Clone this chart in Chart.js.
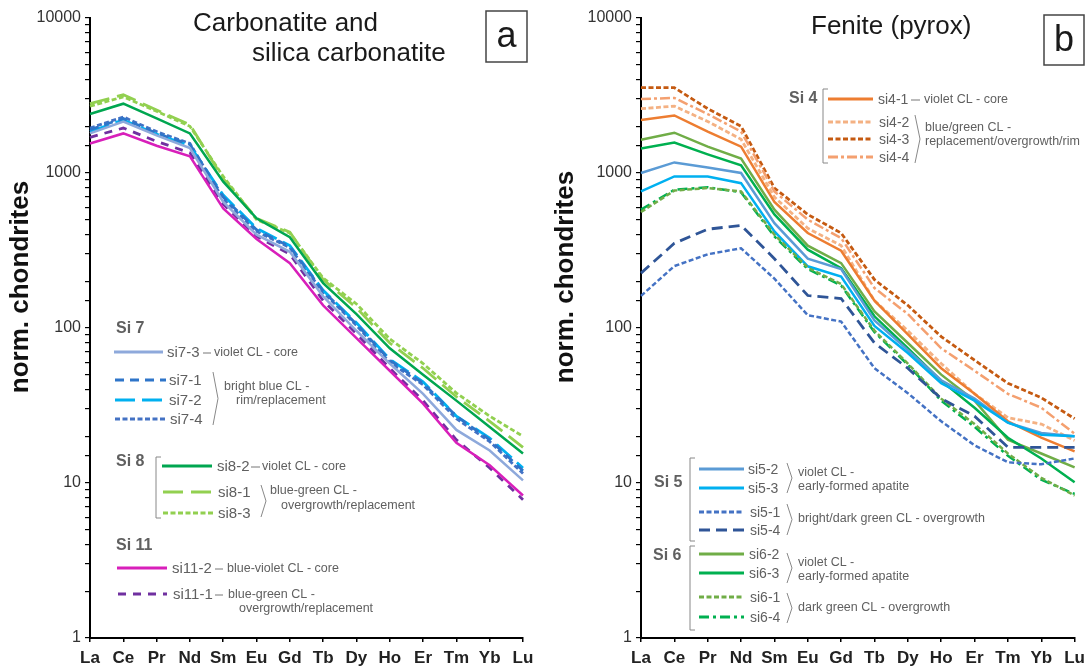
<!DOCTYPE html>
<html>
<head>
<meta charset="utf-8">
<script src="https://cdn.jsdelivr.net/npm/chart.js@4.4.0/dist/chart.umd.min.js"></script>
<style>
  body { margin: 0; background: #fff; }
  #wrap { position: relative; width: 1091px; height: 667px; }
  #wrap canvas { position: absolute; top: 0; }
  #chartA { left: 0; }
  #chartB { left: 545px; }
</style>
</head>
<body>
<div id="wrap">
  <canvas id="chartA" width="545" height="667"></canvas>
  <canvas id="chartB" width="546" height="667"></canvas>
</div>
<script>
// Eléments (REE) et graduations
const elements = ['La', 'Ce', 'Pr', 'Nd', 'Sm', 'Eu', 'Gd', 'Tb', 'Dy', 'Ho', 'Er', 'Tm', 'Yb', 'Lu'];
const yTickLabels = [1, 10, 100, 1000, 10000];

// Panneau a - carbonatite
const si7_3 = [1800, 2150, 1750, 1450, 650, 400, 310, 160, 96, 59, 37.6, 22, 16.2, 10.4];
const si7_1 = [1900, 2250, 1800, 1530, 700, 430, 335, 173, 106, 62, 44, 27, 19, 12];
const si7_2 = [1850, 2200, 1780, 1500, 720, 440, 340, 175, 108, 63, 45, 27, 19.5, 12.5];
const si7_4 = [1950, 2300, 1850, 1550, 680, 420, 330, 170, 104, 60, 43, 26, 18.5, 11.5];
const si8_2 = [2400, 2800, 2250, 1800, 880, 510, 385, 195, 123, 74, 50, 34, 23, 15.5];
const si8_1 = [2800, 3200, 2550, 2050, 920, 510, 415, 205, 135, 80, 55, 36, 25, 17];
const si8_3 = [2700, 3100, 2500, 2000, 950, 500, 410, 210, 143, 85, 59, 38, 27, 20];
const si11_2 = [1550, 1800, 1500, 1280, 590, 375, 262, 140, 86, 53, 32.5, 18.2, 13, 8.3];
const si11_1 = [1700, 1950, 1600, 1350, 630, 390, 300, 150, 92, 55, 34, 19, 12.5, 7.8];

// Panneau b - fenite
const si4_1 = [2200, 2350, 1850, 1480, 650, 410, 315, 150, 91, 55, 37.6, 25, 19.6, 16];
const si4_2 = [2600, 2700, 2150, 1650, 700, 440, 340, 150, 96, 59, 37.6, 26.4, 24, 18.8];
const si4_3 = [3550, 3550, 2600, 2000, 800, 540, 410, 205, 140, 88, 62, 44, 35.5, 26];
const si4_4 = [3000, 3050, 2400, 1850, 760, 500, 380, 181, 123, 74, 53, 37.6, 30.6, 20.8];
const si5_2 = [1000, 1170, 1085, 1000, 475, 280, 240, 112, 72, 46, 35, 24.5, 21, 20];
const si5_3 = [760, 950, 950, 860, 420, 250, 215, 103, 69, 44, 34, 24.5, 20.5, 20];
const si5_1 = [161, 251, 299, 327, 208, 121, 110, 55, 38, 25, 17.5, 13.6, 13.2, 14.4];
const si5_4 = [226, 352, 434, 459, 280, 162, 155, 80, 55, 35, 27, 17, 17, 17];
const si6_2 = [1640, 1820, 1480, 1240, 580, 340, 262, 128, 80, 50, 34, 19, 15.5, 12.6];
const si6_3 = [1440, 1570, 1320, 1120, 540, 320, 243, 119, 74, 45.6, 30.6, 19.6, 14.4, 10.1];
const si6_1 = [560, 770, 800, 760, 400, 245, 192, 96, 59, 35, 24, 15.5, 10.8, 8.3];
const si6_4 = [580, 780, 810, 750, 390, 240, 188, 94, 58, 34, 23, 15, 10.5, 8.5];

const FONT = '"Liberation Sans", Arial, sans-serif';
const GREY = '#606060';

function serie(label, data, color, dash, width) {
    return {
        label: label,
        data: data,
        borderColor: color,
        backgroundColor: color,
        borderDash: dash || [],
        borderWidth: width || 2.5,
        pointRadius: 0,
        tension: 0,
        fill: false
    };
}

// Décor : titres, cadre lettre, légende dessinée à la main
const decoConfig = {
    chartA: {
        titles: [
            { text: 'Carbonatite and', x: 193, y: 31 },
            { text: 'silica carbonatite', x: 252, y: 61 }
        ],
        box: { x: 486, y: 11, w: 41, h: 51, letter: 'a' },
        ytitle: { x: 21, y: 287 },
        labelSize: 15,
        heads: [
            { text: 'Si 7', x: 116, y: 329 },
            { text: 'Si 8', x: 116, y: 462 },
            { text: 'Si 11', x: 116, y: 546 }
        ],
        items: [
            { ds: 'si7-3', x1: 114, x2: 163, y: 352, lx: 167, dash: [203, 211], desc: 'violet CL - core', dx: 214 },
            { ds: 'si7-1', x1: 115, x2: 166, y: 380, lx: 169 },
            { ds: 'si7-2', x1: 115, x2: 166, y: 400, lx: 169 },
            { ds: 'si7-4', x1: 115, x2: 166, y: 419, lx: 170 },
            { ds: 'si8-2', x1: 162, x2: 212, y: 466, lx: 217, dash: [251, 260], desc: 'violet CL - core', dx: 262 },
            { ds: 'si8-1', x1: 163, x2: 213, y: 492, lx: 218 },
            { ds: 'si8-3', x1: 163, x2: 213, y: 513, lx: 218 },
            { ds: 'si11-2', x1: 117, x2: 167, y: 568, lx: 172, dash: [215, 223], desc: 'blue-violet CL - core', dx: 227 },
            { ds: 'si11-1', x1: 118, x2: 167, y: 594, lx: 173, dash: [215, 223] }
        ],
        brackets: [{ x: 156, y1: 457, y2: 518 }],
        chevrons: [
            { x: 213, y1: 372, y2: 425 },
            { x: 261, y1: 485, y2: 517 }
        ],
        texts: [
            { text: 'bright blue CL -', x: 224, y: 387 },
            { text: 'rim/replacement', x: 236, y: 401 },
            { text: 'blue-green CL -', x: 270, y: 491 },
            { text: 'overgrowth/replacement', x: 281, y: 506 },
            { text: 'blue-green CL -', x: 228, y: 595 },
            { text: 'overgrowth/replacement', x: 239, y: 609 }
        ]
    },
    chartB: {
        titles: [
            { text: 'Fenite (pyrox)', x: 266, y: 34 }
        ],
        box: { x: 499, y: 15, w: 40, h: 50, letter: 'b' },
        ytitle: { x: 21, y: 277 },
        labelSize: 14,
        heads: [
            { text: 'Si 4', x: 244, y: 99 },
            { text: 'Si 5', x: 109, y: 483 },
            { text: 'Si 6', x: 108, y: 556 }
        ],
        items: [
            { ds: 'si4-1', x1: 283, x2: 328, y: 99, lx: 333, dash: [366, 375], desc: 'violet CL - core', dx: 379 },
            { ds: 'si4-2', x1: 283, x2: 328, y: 122, lx: 334 },
            { ds: 'si4-3', x1: 283, x2: 328, y: 139, lx: 334 },
            { ds: 'si4-4', x1: 283, x2: 328, y: 157, lx: 334 },
            { ds: 'si5-2', x1: 154, x2: 199, y: 469, lx: 203 },
            { ds: 'si5-3', x1: 154, x2: 199, y: 488, lx: 203 },
            { ds: 'si5-1', x1: 154, x2: 199, y: 512, lx: 205 },
            { ds: 'si5-4', x1: 154, x2: 199, y: 530, lx: 205 },
            { ds: 'si6-2', x1: 154, x2: 199, y: 554, lx: 204 },
            { ds: 'si6-3', x1: 154, x2: 199, y: 573, lx: 204 },
            { ds: 'si6-1', x1: 154, x2: 199, y: 597, lx: 205 },
            { ds: 'si6-4', x1: 154, x2: 199, y: 617, lx: 205 }
        ],
        brackets: [
            { x: 278, y1: 89, y2: 163 },
            { x: 145, y1: 458, y2: 541 },
            { x: 145, y1: 546, y2: 630 }
        ],
        chevrons: [
            { x: 370, y1: 115, y2: 163 },
            { x: 242, y1: 463, y2: 493 },
            { x: 242, y1: 504, y2: 535 },
            { x: 242, y1: 553, y2: 583 },
            { x: 242, y1: 593, y2: 623 }
        ],
        texts: [
            { text: 'blue/green CL -', x: 380, y: 128 },
            { text: 'replacement/overgrowth/rim', x: 380, y: 142 },
            { text: 'violet CL -', x: 253, y: 473 },
            { text: 'early-formed apatite', x: 253, y: 487 },
            { text: 'bright/dark green CL - overgrowth', x: 253, y: 519 },
            { text: 'violet CL -', x: 253, y: 563 },
            { text: 'early-formed apatite', x: 253, y: 577 },
            { text: 'dark green CL - overgrowth', x: 253, y: 608 }
        ]
    }
};

const decoPlugin = {
    id: 'deco',
    afterDraw(chart) {
        const cfg = decoConfig[chart.canvas.id];
        if (!cfg) return;
        const ctx = chart.ctx;
        ctx.save();

        // Titres
        ctx.fillStyle = '#1a1a1a';
        ctx.font = `26px ${FONT}`;
        ctx.textBaseline = 'alphabetic';
        ctx.textAlign = 'left';
        cfg.titles.forEach(t => ctx.fillText(t.text, t.x, t.y));

        // Cadre avec la lettre
        const b = cfg.box;
        ctx.strokeStyle = '#444';
        ctx.lineWidth = 1.5;
        ctx.strokeRect(b.x, b.y, b.w, b.h);
        ctx.font = `36px ${FONT}`;
        ctx.textAlign = 'center';
        ctx.textBaseline = 'middle';
        ctx.fillText(b.letter, b.x + b.w / 2, b.y + b.h / 2 + 1);

        // Titre de l'axe Y
        ctx.save();
        ctx.translate(cfg.ytitle.x, cfg.ytitle.y);
        ctx.rotate(-Math.PI / 2);
        ctx.font = `bold 26px ${FONT}`;
        ctx.fillStyle = '#111';
        ctx.fillText('norm. chondrites', 0, 0);
        ctx.restore();

        // Légende
        ctx.textAlign = 'left';
        ctx.textBaseline = 'middle';
        ctx.fillStyle = GREY;
        ctx.font = `bold 16px ${FONT}`;
        cfg.heads.forEach(h => ctx.fillText(h.text, h.x, h.y));

        cfg.items.forEach(it => {
            const ds = chart.data.datasets.find(d => d.label === it.ds);
            ctx.save();
            ctx.strokeStyle = ds.borderColor;
            ctx.lineWidth = 3.2;
            ctx.setLineDash(ds.borderDash);
            ctx.beginPath();
            ctx.moveTo(it.x1, it.y);
            ctx.lineTo(it.x2, it.y);
            ctx.stroke();
            ctx.restore();
            ctx.fillStyle = GREY;
            ctx.font = `${cfg.labelSize}px ${FONT}`;
            ctx.fillText(it.ds, it.lx, it.y + 1);
            if (it.dash) {
                ctx.strokeStyle = '#777';
                ctx.lineWidth = 1;
                ctx.beginPath();
                ctx.moveTo(it.dash[0], it.y + 1);
                ctx.lineTo(it.dash[1], it.y + 1);
                ctx.stroke();
            }
            if (it.desc) {
                ctx.font = `12.5px ${FONT}`;
                ctx.fillText(it.desc, it.dx, it.y + 1);
            }
        });

        ctx.font = `12.5px ${FONT}`;
        ctx.fillStyle = GREY;
        cfg.texts.forEach(t => ctx.fillText(t.text, t.x, t.y));

        ctx.strokeStyle = '#888';
        ctx.lineWidth = 1;
        cfg.brackets.forEach(br => {
            ctx.beginPath();
            ctx.moveTo(br.x + 5, br.y1);
            ctx.lineTo(br.x, br.y1);
            ctx.lineTo(br.x, br.y2);
            ctx.lineTo(br.x + 5, br.y2);
            ctx.stroke();
        });
        cfg.chevrons.forEach(c => {
            ctx.beginPath();
            ctx.moveTo(c.x, c.y1);
            ctx.lineTo(c.x + 5, (c.y1 + c.y2) / 2);
            ctx.lineTo(c.x, c.y2);
            ctx.stroke();
        });

        ctx.restore();
    }
};

function buildOptions(yWidth, padRight) {
    return {
        responsive: false,
        animation: false,
        layout: { padding: { top: 18, right: padRight, left: 0, bottom: 0 } },
        plugins: {
            legend: { display: false },
            tooltip: { enabled: false }
        },
        scales: {
            x: {
                type: 'category',
                offset: false,
                grid: { drawOnChartArea: false, drawTicks: true, tickLength: 4, color: '#000', lineWidth: 1.5 },
                border: { display: true, color: '#000', width: 2 },
                ticks: {
                    autoSkip: false,
                    maxRotation: 0,
                    padding: 6,
                    color: '#222',
                    font: { family: FONT, size: 17, weight: 'bold' }
                },
                afterFit: s => { s.height = 29; }
            },
            y: {
                type: 'logarithmic',
                min: 1,
                max: 10000,
                grid: { drawOnChartArea: false, drawTicks: true, tickLength: 5, color: '#000', lineWidth: 1.2 },
                border: { display: true, color: '#000', width: 2 },
                ticks: {
                    autoSkip: false,
                    padding: 4,
                    color: '#333',
                    font: { family: FONT, size: 16 },
                    callback: v => yTickLabels.includes(v) ? String(v) : ''
                },
                afterFit: s => { s.width = yWidth; }
            }
        }
    };
}

// Graphique a
new Chart(document.getElementById('chartA').getContext('2d'), {
    type: 'line',
    data: {
        labels: elements,
        datasets: [
            serie('si7-3', si7_3, '#8EA9DB', [], 2.5),
            serie('si7-1', si7_1, '#2E75C9', [9, 6], 2.8),
            serie('si7-2', si7_2, '#00B0F0', [20, 7], 2.8),
            serie('si7-4', si7_4, '#4472C4', [5, 2.5], 2.8),
            serie('si8-2', si8_2, '#00A650', [], 2.5),
            serie('si8-1', si8_1, '#92D050', [20, 8], 2.8),
            serie('si8-3', si8_3, '#92D050', [5, 2.5], 2.8),
            serie('si11-2', si11_2, '#D81FBA', [], 2.5),
            serie('si11-1', si11_1, '#7030A0', [8, 7], 2.8)
        ]
    },
    options: buildOptions(90, 22),
    plugins: [decoPlugin]
});

// Graphique b
new Chart(document.getElementById('chartB').getContext('2d'), {
    type: 'line',
    data: {
        labels: elements,
        datasets: [
            serie('si5-1', si5_1, '#4472C4', [5, 2.5], 2.5),
            serie('si5-4', si5_4, '#2F5597', [11, 6], 2.8),
            serie('si6-1', si6_1, '#70AD47', [5, 2.5], 2.5),
            serie('si6-4', si6_4, '#00B050', [10, 4, 3, 4], 2.5),
            serie('si5-3', si5_3, '#00B0F0', [], 2.5),
            serie('si5-2', si5_2, '#5B9BD5', [], 2.5),
            serie('si6-3', si6_3, '#00B050', [], 2.5),
            serie('si6-2', si6_2, '#70AD47', [], 2.5),
            serie('si4-1', si4_1, '#ED7D31', [], 2.5),
            serie('si4-2', si4_2, '#F4B183', [5, 2.5], 2.8),
            serie('si4-4', si4_4, '#F4A070', [10, 3, 3, 3], 2.5),
            serie('si4-3', si4_3, '#C55A11', [5, 2.5], 2.8)
        ]
    },
    options: buildOptions(96, 15),
    plugins: [decoPlugin]
});
</script>
</body>
</html>
